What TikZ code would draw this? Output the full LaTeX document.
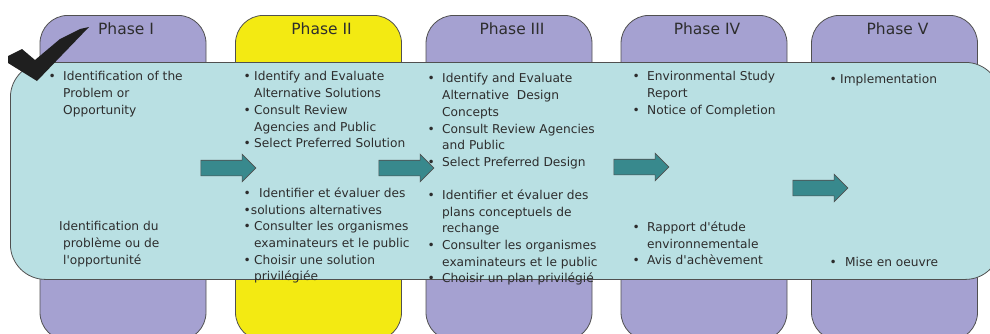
\documentclass[tikz,border=0pt]{standalone}
\usepackage{fontspec}
\setmainfont{DejaVu Sans}[Ligatures=TeXOff]
\usepackage{tikz}
\usetikzlibrary{shapes.arrows}

\definecolor{phasepurple}{RGB}{165,161,209}
\definecolor{phaseyellow}{RGB}{243,234,18}
\definecolor{panelcyan}{RGB}{185,224,227}
\definecolor{arrowteal}{RGB}{56,137,141}
\definecolor{edgegrey}{RGB}{80,80,80}
\definecolor{textgrey}{RGB}{45,45,45}

% bullet with hanging indent
\newcommand{\bl}[1][14.5pt]{\makebox[#1][l]{\textbullet}}
\newcommand{\ind}[1][14.5pt]{\hspace*{#1}}

\begin{document}
\begin{tikzpicture}[x=1pt, y=-1pt,
	phasecol/.style={rectangle, draw=edgegrey, line width=0.8pt, rounded corners=28pt, anchor=north, minimum width=166pt, minimum height=325pt, inner sep=0pt},
	phasetitle/.style={anchor=base, text=textgrey, font=\fontsize{15.5pt}{18pt}\selectfont, inner sep=0pt},
	panel/.style={rectangle, draw=edgegrey, line width=0.8pt, fill=panelcyan, rounded corners=35pt, anchor=north west, minimum width=990pt, minimum height=217pt, inner sep=0pt},
	txt/.style={anchor=north west, align=left, inner sep=0pt, text=textgrey, font=\fontsize{12.2pt}{16.7pt}\selectfont, execute at begin node={\rule{0pt}{10pt}}},
	blockarrow/.style={single arrow, draw=edgegrey, line width=0.6pt, fill=arrowteal, minimum height=55pt, minimum width=27pt, single arrow head extend=6pt, inner xsep=0pt, inner ysep=7.5pt}]
	\useasboundingbox (0,0) rectangle (990,333);
	\clip (0,0) rectangle (990,333);
	
	\foreach \x/\c/\n/\t in {123/phasepurple/1/I, 318.5/phaseyellow/2/II, 509/phasepurple/3/III, 704/phasepurple/4/IV, 894.5/phasepurple/5/V}
	{
		\node[phasecol, fill=\c] (ph\n) at (\x,15) {};
		\node[phasetitle] (title\n) at (\x+3,34) {Phase \t};
	}
	
	\node[panel] (panel) at (10,62) {};
	
	% english
	\node[txt] (en1) at (48.5,71.5) {\bl Identification of the\\ \ind Problem or\\ \ind Opportunity};
	\node[txt] (en2) at (243.5,71.5) {\bl[10.5pt]Identify and Evaluate\\ \ind[10.5pt]Alternative Solutions\\ \bl[10.5pt]Consult Review\\ \ind[10.5pt]Agencies and Public\\ \bl[10.5pt]Select Preferred Solution};
	\node[txt] (en3) at (427.5,73.5) {\bl Identify and Evaluate\\ \ind Alternative~ Design\\ \ind Concepts\\ \bl Consult Review Agencies\\ \ind and Public\\ \bl Select Preferred Design};
	\node[txt] (en4) at (632.5,71.5) {\bl Environmental Study\\ \ind Report\\ \bl Notice of Completion};
	\node[txt] (en5) at (829.5,73.5) {\bl[10.5pt]Implementation};
	
	% french
	\node[txt] (fr1) at (59,221.5) {Identification du\\ \ind[4pt]problème ou de\\ \ind[4pt]l'opportunité};
	\node[txt] (fr2) at (243.5,187.5) {\bl[15.5pt]Identifier et évaluer des\\ \textbullet solutions alternatives\\ \bl[10.5pt]Consulter les organismes\\ \ind[10.5pt]examinateurs et le public\\ \bl[10.5pt]Choisir une solution\\ \ind[10.5pt]privilégiée};
	\node[txt] (fr3) at (427.5,189.5) {\bl Identifier et évaluer des\\ \ind plans conceptuels de\\ \ind rechange\\ \bl Consulter les organismes\\ \ind examinateurs et le public\\ \bl Choisir un plan privilégié};
	\node[txt] (fr4) at (632.5,221.5) {\bl Rapport d'étude\\ \ind environnementale\\ \bl Avis d'achèvement};
	\node[txt] (fr5) at (829.5,256.5) {\bl[15.5pt]Mise en oeuvre};
	
	% arrows between phases
	\node[blockarrow] (arr1) at (224.5,168) {};
	\node[blockarrow] (arr2) at (402.5,168) {};
	\node[blockarrow] (arr3) at (637.5,167) {};
	\node[blockarrow] (arr4) at (816.5,188) {};
	
	% check mark
	\fill[black!88] (8,56) -- (22,49) -- (35,60) -- (60,39) -- (80,29) -- (89,27) -- (62,55) -- (37,81) -- (8,63) -- cycle;
\end{tikzpicture}
\end{document}
